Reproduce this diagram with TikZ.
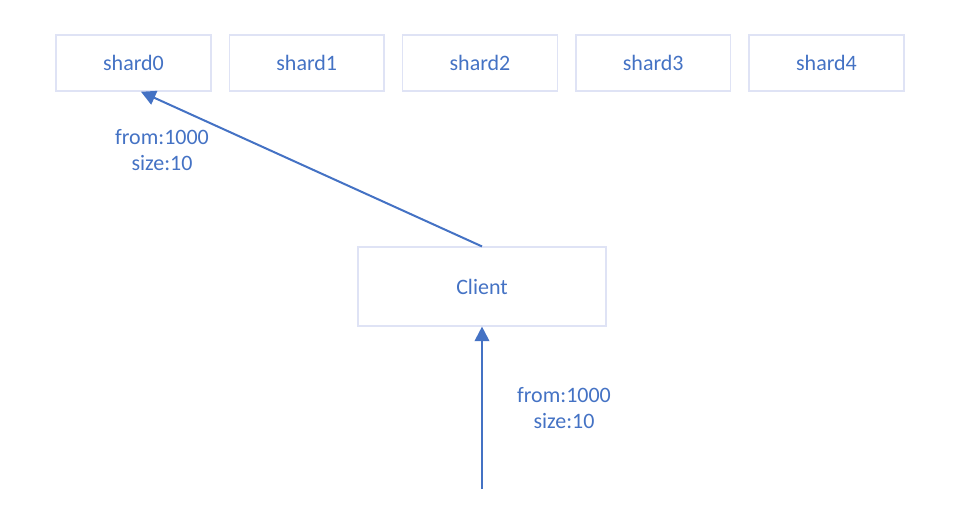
\documentclass[tikz,border=0pt]{standalone}
\usepackage{fontspec}
\setmainfont{Carlito}
\usepackage{tikz}
\usetikzlibrary{arrows.meta}
\usetikzlibrary{positioning}
\definecolor{lblue}{HTML}{4472C4}
\definecolor{lbox}{HTML}{DFE3F5}
\tikzset{>={Triangle[length=11pt,width=11pt]}}
\tikzstyle{box} = [rectangle, draw=lbox, line width=1.1pt, text=lblue, font=\fontsize{16.5}{19.5}\selectfont]
\tikzstyle{lbl} = [align=center, text=lblue, font=\fontsize{16.5}{19.5}\selectfont]
\tikzstyle{link} = [->, draw=lblue, line width=1.5pt]

\begin{document}
\begin{tikzpicture}[x=0.75pt, y=-0.75pt]
\useasboundingbox (0,0) rectangle (972,521);
\foreach \i in {0,...,4}
  \node [box, minimum width=116pt, minimum height=42pt] (shard\i) at ({133.5+173.25*\i}, 63) {shard\i};
\node [box, minimum width=186pt, minimum height=59pt] (client) at (482, 286.5) {Client};
\coordinate (req) at (482, 489);
\draw [link] (client.north) to ([xshift=5.6pt]shard0.south);
\draw [link] (req) to (client.south);
\node [lbl] (lbl0) at (162, 150) {from:1000\\size:10};
\node [lbl] (lbl1) at (564, 408) {from:1000\\size:10};
\end{tikzpicture}
\end{document}
